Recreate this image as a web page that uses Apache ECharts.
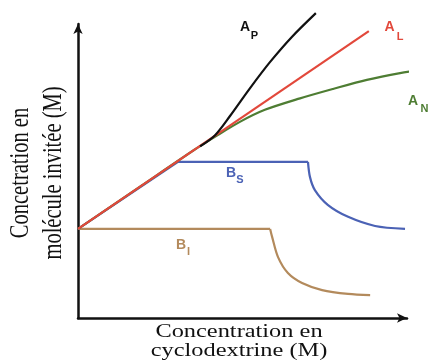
<!DOCTYPE html>
<html>
<head>
<meta charset="utf-8">
<script src="https://cdn.jsdelivr.net/npm/echarts@6/dist/echarts.min.js"></script>
<style>
html,body{margin:0;padding:0;background:#fff;}
#phase-chart{width:430px;height:363px;}
</style>
</head>
<body>
<div id="phase-chart"></div>
<script>
// courbes (unités arbitraires 0-100)
var alLine   = [[0,30.3],[88.4,97.6]];
var apCurve  = [[37.1,58.4],[41.6,62.1],[46.2,68.7],[52.3,78.2],[58.4,87.1],[65.0,95.6],[72.3,103.7]];
var anCurve  = [[0,30.3],[19.3,45.0],[35.5,57.3],[41.6,61.6],[49.2,66.7],[56.8,70.8],[67.5,74.7],[77.5,77.9],[87.8,81.0],[97.9,83.3],[104.6,84.4]];
var bsRise   = [[0,30.3],[30.4,53.1],[69.9,53.1]];
var bsCurve  = [[69.9,53.1],[70.5,48.0],[72.0,43.5],[76.0,38.4],[82.1,34.4],[90.3,31.3],[99.4,30.3]];
var biFlat   = [[0,30.3],[58.4,30.3]];
var biCurve  = [[58.4,30.3],[59.0,27.6],[60.8,20.7],[63.8,15.3],[68.1,11.9],[74.2,9.5],[82.1,8.2],[88.8,7.8]];

var xTitle = 'Concentration en\ncyclodextrine (M)';
var yTitle = 'Concetration en\nmolécule invitée (M)';

var phaseChart = echarts.init(document.getElementById('phase-chart'));

function axisOpt(){
    return {
        type: 'value',
        min: 0,
        max: 100,
        axisLine: {
            show: true,
            onZero: false,
            symbol: ['none','arrow'],
            symbolSize: [7,10],
            lineStyle: {color:'#111', width:2.5}
        },
        axisTick: {show:false},
        axisLabel: {show:false},
        splitLine: {show:false}
    };
}

function curve(data, color, smooth){
    return {
        type: 'line',
        data: data,
        smooth: smooth,
        symbol: 'none',
        clip: false,
        silent: true,
        lineStyle: {color: color, width: 2.2}
    };
}

function lbl(txt, x, y, color, size){
    return {
        type: 'text',
        x: x, y: y,
        style: {
            text: txt,
            font: 'bold ' + size + 'px "Liberation Sans"',
            fill: color,
            align: 'center', verticalAlign: 'middle',
            textAlign: 'center', textVerticalAlign: 'middle'
        }
    };
}

var phaseChartOption = {
    animation: false,
    grid: {left:78, top:24, width:329, height:294},
    xAxis: axisOpt(),
    yAxis: axisOpt(),
    series: [
        curve(biFlat, '#b38a5c', false),
        curve(biCurve, '#b38a5c', 0.3),
        curve(bsRise, '#4b62b5', false),
        curve(bsCurve, '#4b62b5', 0.3),
        curve(anCurve, '#4e7d33', 0.3),
        curve(alLine, '#e2483b', false),
        curve(apCurve, '#111111', 0.3)
    ],
    graphic: [
        lbl('A', 245, 27, '#111', 14),   lbl('P', 254.5, 36, '#111', 11),
        lbl('A', 389.5, 27, '#e2483b', 14), lbl('L', 400, 37, '#e2483b', 11),
        lbl('A', 413, 101.5, '#4e7d33', 14), lbl('N', 424.5, 108.5, '#4e7d33', 11),
        lbl('B', 231, 173.5, '#4b62b5', 14), lbl('S', 240, 180, '#4b62b5', 11),
        lbl('B', 181, 245.5, '#b38a5c', 14), lbl('I', 188.5, 252, '#b38a5c', 11),
        {
            type: 'text',
            x: 239, y: 341,
            scaleX: 1.25,
            style: {
                text: xTitle,
                font: '19.5px "Liberation Serif"',
                lineHeight: 19,
                fill: '#111',
                align: 'center', verticalAlign: 'middle',
                textAlign: 'center', textVerticalAlign: 'middle'
            }
        },
        {
            type: 'text',
            x: 37.5, y: 173,
            rotation: Math.PI / 2,
            scaleY: 1.3,
            style: {
                text: yTitle,
                font: '20.5px "Liberation Serif"',
                lineHeight: 26,
                fill: '#111',
                align: 'center', verticalAlign: 'middle',
                textAlign: 'center', textVerticalAlign: 'middle'
            }
        }
    ]
};

phaseChart.setOption(phaseChartOption);
</script>
</body>
</html>
